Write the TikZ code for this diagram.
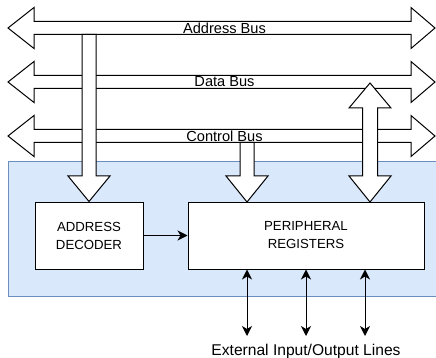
\documentclass[tikz,border=0pt]{standalone}
\usepackage{fontspec}
\setmainfont{Liberation Sans}
\usetikzlibrary{arrows.meta}
\definecolor{panelfill}{HTML}{DAE8FC}
\definecolor{paneldraw}{HTML}{6C8EBF}
\tikzset{
  blockarrow/.style={draw=black, fill=white, line width=1pt, line join=miter},
  unitbox/.style={draw=black, fill=white, line width=1pt, align=center,
    font=\fontsize{13.2}{18}\selectfont, inner sep=0pt},
  buslabel/.style={font=\fontsize{14.6}{16}\selectfont, inner sep=0pt},
  extlabel/.style={font=\fontsize{15.6}{17}\selectfont, inner sep=0pt},
  tip/.tip={Stealth[length=10pt,width=10pt,inset=3pt]},
  thinarrow/.style={draw=black, line width=1pt, -tip},
  iolink/.style={draw=black, line width=1pt, tip-tip},
}
\begin{document}
\begin{tikzpicture}[x=1pt,y=-1pt]
\useasboundingbox (0,0) rectangle (436,358);

% peripheral panel
\draw[fill=panelfill, draw=paneldraw, line width=1pt] (8,162) rectangle (440,296);

% system buses (double-headed block arrows)
\foreach \c/\nm/\txt in {28/addrbus/Address Bus, 82/databus/Data Bus, 136/ctrlbus/Control Bus}{
  \draw[blockarrow] (8,\c) -- (34,{\c-20.5}) -- (34,{\c-6.5}) -- (411,{\c-6.5})
    -- (411,{\c-20.5}) -- (435,\c) -- (411,{\c+20.5}) -- (411,{\c+6.5})
    -- (34,{\c+6.5}) -- (34,{\c+20.5}) -- cycle;
  \node[buslabel] (\nm) at (224.5,\c) {\txt};
}

% functional units
\node[unitbox, minimum width=108, minimum height=67] (dec) at (89,235.5) {ADDRESS\\DECODER};
\node[unitbox, minimum width=236, minimum height=67] (reg) at (306,235.5) {PERIPHERAL\\REGISTERS};

% address bus -> decoder
\draw[blockarrow] (82,34.5) -- (82,176) -- (68,176) -- (dec.north) -- (110,176)
  -- (96,176) -- (96,34.5) -- cycle;

% control bus -> registers
\coordinate (ctrltip) at (247,202);
\draw[blockarrow] (240,142.5) -- (240,176) -- (226,176) -- (ctrltip) -- (268,176)
  -- (254,176) -- (254,142.5) -- cycle;

% data bus <-> registers
\coordinate (datatop) at (370,83);
\coordinate (databot) at (370,202);
\draw[blockarrow] (datatop) -- (391,108) -- (377.5,108) -- (377.5,176) -- (391,176)
  -- (databot) -- (349,176) -- (362.5,176) -- (362.5,108) -- (349,108) -- cycle;

% decoder selects registers
\draw[thinarrow] (dec.east) -- (reg.west);

% external I/O lines
\coordinate (io1) at (247,336);
\coordinate (io2) at (306,336);
\coordinate (io3) at (365,336);
\foreach \p in {io1,io2,io3}{
  \draw[iolink] (reg.south -| \p) -- (\p);
}
\node[extlabel] (ext) at (306,351) {External Input/Output Lines};
\end{tikzpicture}
\end{document}
